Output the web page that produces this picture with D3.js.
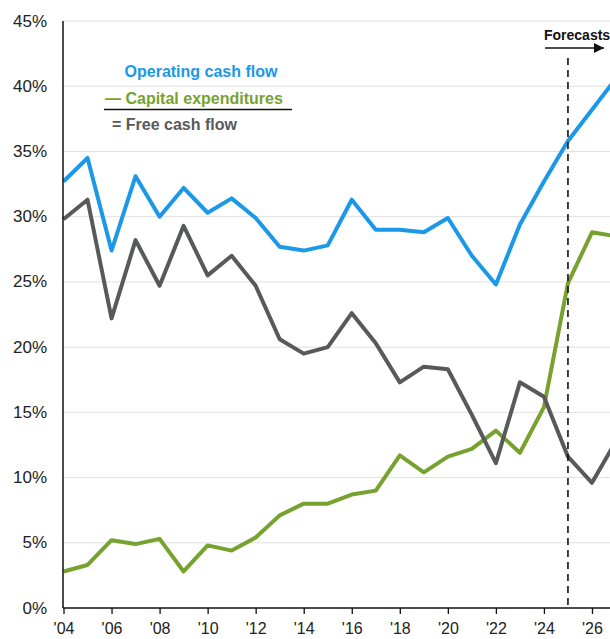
<!DOCTYPE html>
<html>
<head>
<meta charset="utf-8">
<script src="https://cdn.jsdelivr.net/npm/d3@7"></script>
<style>
  html, body { margin: 0; padding: 0; background: #fff; }
  svg { display: block; font-family: "Liberation Sans", Arial, sans-serif; }
</style>
</head>
<body>
<div id="chart"></div>
<script>
// ---- Data (share of revenue, %) ----
const years = [2004, 2005, 2006, 2007, 2008, 2009, 2010, 2011, 2012, 2013, 2014, 2015,
  2016, 2017, 2018, 2019, 2020, 2021, 2022, 2023, 2024, 2025, 2026, 2027];
const operatingCashFlow = [32.7, 34.5, 27.4, 33.1, 30.0, 32.2, 30.3, 31.4, 29.9, 27.7, 27.4, 27.8,
  31.3, 29.0, 29.0, 28.8, 29.9, 27.0, 24.8, 29.4, 32.7, 35.8, 38.2, 40.6];
const capitalExpenditures = [2.8, 3.3, 5.2, 4.9, 5.3, 2.8, 4.8, 4.4, 5.4, 7.1, 8.0, 8.0,
  8.7, 9.0, 11.7, 10.4, 11.6, 12.2, 13.6, 11.9, 15.4, 24.9, 28.8, 28.5];
const freeCashFlow = [29.8, 31.3, 22.2, 28.2, 24.7, 29.3, 25.5, 27.0, 24.7, 20.6, 19.5, 20.0,
  22.6, 20.3, 17.3, 18.5, 18.3, 14.8, 11.1, 17.3, 16.2, 11.6, 9.6, 12.8];
const yTicks = [0, 5, 10, 15, 20, 25, 30, 35, 40, 45];
const xTicks = [2004, 2006, 2008, 2010, 2012, 2014, 2016, 2018, 2020, 2022, 2024, 2026];
const forecastStart = 2025;

const width = 610, height = 639;
const margin = { top: 21, right: -6, bottom: 31, left: 63 };

const svg = d3.select('#chart').append('svg')
  .attr('width', width).attr('height', height);

const x = d3.scaleLinear()
  .domain([2004, 2027])
  .range([margin.left + 0.5, width - margin.right]);

const y = d3.scaleLinear()
  .domain([0, 45])
  .range([height - margin.bottom, margin.top]);

// ---- Grid ----
svg.append('g')
  .selectAll('line').data(yTicks.filter(d => d > 0)).join('line')
  .attr('x1', margin.left).attr('x2', width)
  .attr('y1', d => y(d)).attr('y2', d => y(d))
  .attr('stroke', '#e0e0e0').attr('stroke-width', 1);

// ---- Y Axis labels ----
svg.append('g')
  .selectAll('text').data(yTicks).join('text')
  .attr('x', 47).attr('y', d => y(d))
  .attr('text-anchor', 'end')
  .attr('dominant-baseline', 'central')
  .attr('font-size', '17px')
  .attr('fill', '#222')
  .text(d => `${d}%`);

// ---- Lines ----
const line = d3.line()
  .x((d, i) => x(years[i]))
  .y(d => y(d));

const series = [
  { values: capitalExpenditures, color: '#77a22f' },
  { values: freeCashFlow, color: '#58595b' },
  { values: operatingCashFlow, color: '#1b98e8' }
];

svg.append('g')
  .selectAll('path').data(series).join('path')
  .attr('d', d => line(d.values))
  .attr('fill', 'none')
  .attr('stroke', d => d.color)
  .attr('stroke-width', 4)
  .attr('stroke-linejoin', 'round');

// ---- Forecast marker ----
svg.append('line')
  .attr('x1', x(forecastStart)).attr('x2', x(forecastStart))
  .attr('y1', 58).attr('y2', y(0))
  .attr('stroke', '#111').attr('stroke-width', 1.6)
  .attr('stroke-dasharray', '7,5');

svg.append('text')
  .attr('x', 544).attr('y', 40)
  .attr('font-size', '14px').attr('font-weight', '700')
  .attr('fill', '#111')
  .text('Forecasts');

const defs = svg.append('defs');
defs.append('marker')
  .attr('id', 'arrow').attr('viewBox', '0 0 10 10')
  .attr('refX', 10).attr('refY', 5)
  .attr('markerWidth', 10).attr('markerHeight', 10)
  .attr('markerUnits', 'userSpaceOnUse')
  .attr('orient', 'auto')
  .append('path').attr('d', 'M0,0 L10,5 L0,10 Z').attr('fill', '#111');

svg.append('line')
  .attr('x1', 545).attr('x2', 604)
  .attr('y1', 48).attr('y2', 48)
  .attr('stroke', '#111').attr('stroke-width', 1.3)
  .attr('marker-end', 'url(#arrow)');

// ---- Axes lines ----
svg.append('line')
  .attr('x1', margin.left).attr('x2', margin.left)
  .attr('y1', margin.top).attr('y2', y(0))
  .attr('stroke', '#111').attr('stroke-width', 1.5);

const xAxis = svg.append('g')
  .attr('transform', `translate(0,${y(0)})`)
  .call(d3.axisBottom(x).tickValues(xTicks).tickSize(6).tickPadding(9)
    .tickFormat(d => `'${String(d).slice(2)}`));
xAxis.select('.domain').attr('stroke', '#111').attr('stroke-width', 1.5)
  .attr('d', `M${margin.left},0H${width}`);
xAxis.selectAll('.tick line').attr('stroke', '#111').attr('stroke-width', 1.3);
xAxis.selectAll('.tick text')
  .attr('font-family', '"Liberation Sans", Arial, sans-serif')
  .attr('font-size', '16px').attr('fill', '#222');

// ---- Legend (formula) ----
const legend = svg.append('g').attr('font-weight', '700').attr('font-size', '16px');
legend.append('text')
  .attr('x', 201).attr('y', 77).attr('text-anchor', 'middle')
  .attr('fill', '#1b98e8').text('Operating cash flow');
legend.append('text')
  .attr('x', 105).attr('y', 104)
  .attr('fill', '#77a22f').text('— Capital expenditures');
legend.append('line')
  .attr('x1', 104).attr('x2', 292).attr('y1', 109.5).attr('y2', 109.5)
  .attr('stroke', '#111').attr('stroke-width', 1.3);
legend.append('text')
  .attr('x', 112).attr('y', 130)
  .attr('fill', '#58595b').text('=  Free cash flow');
</script>
</body>
</html>
